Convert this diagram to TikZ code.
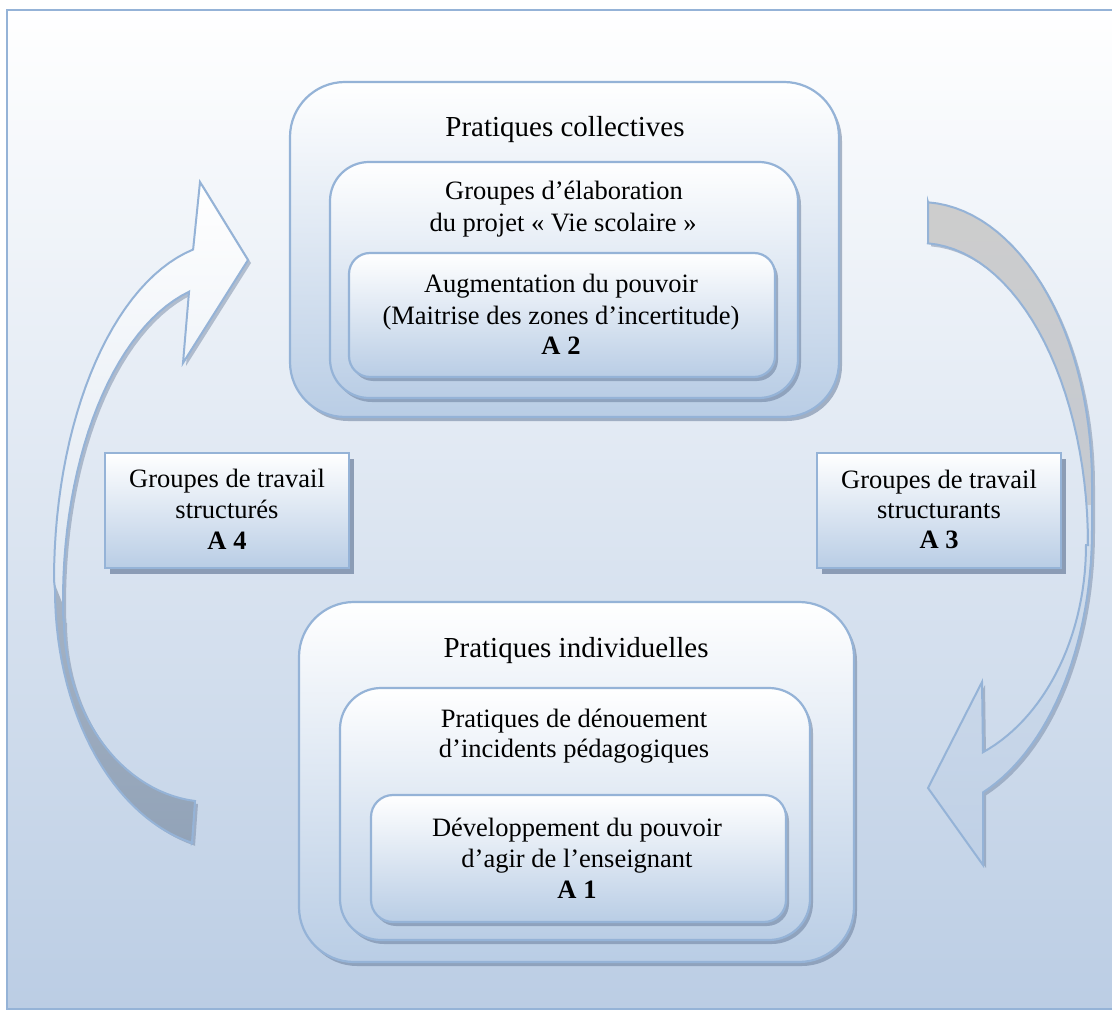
\documentclass[tikz,border=0pt]{standalone}
\usepackage{fontspec}
\setmainfont{Liberation Serif}
\usetikzlibrary{shadows}
\definecolor{edge}{HTML}{95B3D7}
\definecolor{bluebot}{HTML}{B9CDE5}
\definecolor{framebot}{HTML}{BBCDE4}
\definecolor{shadowc}{HTML}{6A7E9C}
\begin{document}
\begin{tikzpicture}[x=1pt,y=-1pt,
  rbox/.style={draw=edge, line width=2.2pt, top color=white, bottom color=bluebot, inner sep=0pt,
    drop shadow={shadow xshift=3pt, shadow yshift=-4pt, fill=shadowc, opacity=0.55}},
  sqbox/.style={draw=edge, line width=2.2pt, top color=white, bottom color=bluebot, inner sep=0pt,
    drop shadow={shadow xshift=5pt, shadow yshift=-6pt, fill=shadowc, opacity=0.7}},
  ttl/.style={font=\fontsize{29}{33}\selectfont, anchor=base, inner sep=0pt},
  txt/.style={font=\fontsize{26.5}{31}\selectfont, anchor=base, inner sep=0pt},
  bld/.style={font=\fontsize{26.5}{31}\selectfont\bfseries, anchor=base, inner sep=0pt},
  arrline/.style={draw=edge, line width=2pt, line join=miter},
  arrshadow/.style={fill=shadowc, opacity=0.45}
]
\useasboundingbox (0,0) rectangle (1112,1011);
\begin{scope}
\clip (0,0) rectangle (1112,1011);
% frame
\shade[top color=white, bottom color=framebot] (7,10) rectangle (1130,1009);
\draw[edge, line width=2.6pt] (7,10) rectangle (1130,1009);

% ---------------- left arrow (A4) ----------------
\begin{scope}[shift={(3,3)}]
\fill[arrshadow] (192,843) -- plot[domain=257.5:180, samples=30, variable=\t] ({230+175*cos(\t)},{590-259*sin(\t)})
  -- plot[domain=180:102.1, samples=30, variable=\t] ({230+176*cos(\t)},{580-338*sin(\t)})
  -- (200,182) -- (248,260) -- (183,363) -- (189,292)
  -- plot[domain=104.2:183.6, samples=30, variable=\t] ({230+167*cos(\t)},{600-318*sin(\t)})
  -- plot[domain=180:264.1, samples=30, variable=\t] ({210+146*cos(\t)},{620-182*sin(\t)}) -- cycle;
\end{scope}
\shade[top color=white, bottom color={rgb,255:red,220;green,229;blue,240}]
  (54,580) -- plot[domain=180:102.1, samples=30, variable=\t] ({230+176*cos(\t)},{580-338*sin(\t)})
  -- (200,182) -- (248,260) -- (183,363) -- (189,292)
  -- plot[domain=104.2:183.6, samples=30, variable=\t] ({230+167*cos(\t)},{600-318*sin(\t)}) -- cycle;
\shade[top color={rgb,255:red,166;green,179;blue,196}, bottom color={rgb,255:red,146;green,163;blue,184}]
  (54,582) -- plot[domain=180:257.5, samples=30, variable=\t] ({230+175*cos(\t)},{590-259*sin(\t)})
  -- (195,801) -- plot[domain=264.1:180, samples=30, variable=\t] ({210+146*cos(\t)},{620-182*sin(\t)}) -- (63,605) -- cycle;
\path[arrline] (192,843) -- plot[domain=257.5:180, samples=30, variable=\t] ({230+175*cos(\t)},{590-259*sin(\t)})
  -- plot[domain=180:102.1, samples=30, variable=\t] ({230+176*cos(\t)},{580-338*sin(\t)})
  -- (200,182) -- (248,260) -- (183,363) -- (189,292)
  -- plot[domain=104.2:183.6, samples=30, variable=\t] ({230+167*cos(\t)},{600-318*sin(\t)})
  -- plot[domain=180:264.1, samples=30, variable=\t] ({210+146*cos(\t)},{620-182*sin(\t)}) -- cycle;

% ---------------- right arrow (A3) ----------------
\begin{scope}[shift={(3,3)}]
\fill[arrshadow] (928,243) -- (928,202)
  -- plot[domain=87.3:0, samples=30, variable=\t] ({920+172*cos(\t)},{483-281*sin(\t)})
  -- plot[domain=0:-68.5, samples=30, variable=\t] ({920+172*cos(\t)},{530-282*sin(\t)})
  -- (983,865) -- (928,788) -- (982,682) -- (983,752)
  -- plot[domain=-67.7:0, samples=30, variable=\t] ({920+166*cos(\t)},{545-224*sin(\t)})
  -- plot[domain=0:87.3, samples=30, variable=\t] ({920+168*cos(\t)},{545-302*sin(\t)}) -- cycle;
\end{scope}
\shade[top color={rgb,255:red,205;green,205;blue,205}, bottom color={rgb,255:red,196;green,201;blue,209}]
  (928,202) -- plot[domain=87.3:0, samples=30, variable=\t] ({920+172*cos(\t)},{483-281*sin(\t)})
  -- (1092,515) -- (1087,515)
  -- plot[domain=6.3:87.3, samples=30, variable=\t] ({920+168*cos(\t)},{545-302*sin(\t)}) -- cycle;
\shade[top color={rgb,255:red,212;green,223;blue,236}, bottom color={rgb,255:red,191;green,208;blue,230}]
  (1092,505) -- plot[domain=0:-68.5, samples=30, variable=\t] ({920+172*cos(\t)},{530-282*sin(\t)})
  -- (983,865) -- (928,788) -- (982,682) -- (983,752)
  -- plot[domain=-67.7:0, samples=30, variable=\t] ({920+166*cos(\t)},{545-224*sin(\t)})
  -- (1087,505) -- cycle;
\path[arrline] (928,243) -- (928,202)
  -- plot[domain=87.3:0, samples=30, variable=\t] ({920+172*cos(\t)},{483-281*sin(\t)})
  -- plot[domain=0:-68.5, samples=30, variable=\t] ({920+172*cos(\t)},{530-282*sin(\t)})
  -- (983,865) -- (928,788) -- (982,682) -- (983,752)
  -- plot[domain=-67.7:0, samples=30, variable=\t] ({920+166*cos(\t)},{545-224*sin(\t)})
  -- plot[domain=0:87.3, samples=30, variable=\t] ({920+168*cos(\t)},{545-302*sin(\t)}) -- cycle;

% ---------------- top group ----------------
\node[rbox, rounded corners=55pt, minimum width=549pt, minimum height=335pt] (colOuter) at (564.5,249.5) {};
\node[rbox, rounded corners=39pt, minimum width=468pt, minimum height=236pt] (colMid) at (564,280) {};
\node[rbox, rounded corners=21pt, minimum width=426pt, minimum height=124pt] (colIn) at (562,315) {};
\node[ttl] (colT) at (565,137) {Pratiques collectives};
\node[txt] (colM1) at (564,200) {Groupes d’élaboration};
\node[txt] (colM2) at (563,232) {du projet « Vie scolaire »};
\node[txt] (colI1) at (561,293) {Augmentation du pouvoir};
\node[txt] (colI2) at (561,325) {(Maitrise des zones d’incertitude)};
\node[bld] (colI3) at (561,355) {A 2};

% ---------------- bottom group ----------------
\node[rbox, rounded corners=55pt, minimum width=555pt, minimum height=360pt] (indOuter) at (576.5,782) {};
\node[rbox, rounded corners=41pt, minimum width=470pt, minimum height=252pt] (indMid) at (575,814) {};
\node[rbox, rounded corners=22pt, minimum width=415pt, minimum height=127pt] (indIn) at (578.5,858.5) {};
\node[ttl] (indT) at (576,657) {Pratiques individuelles};
\node[txt] (indM1) at (574,727) {Pratiques de dénouement};
\node[txt] (indM2) at (574,757) {d’incidents pédagogiques};
\node[txt] (indI1) at (577,836) {Développement du pouvoir};
\node[txt] (indI2) at (577,867) {d’agir de l’enseignant};
\node[bld] (indI3) at (577,898) {A 1};

% ---------------- side boxes ----------------
\node[sqbox, minimum width=244pt, minimum height=115pt] (a4box) at (227,510.5) {};
\node[txt] (a4l1) at (227,487) {Groupes de travail};
\node[txt] (a4l2) at (227,518) {structurés};
\node[bld] (a4l3) at (227,549) {A 4};

\node[sqbox, minimum width=244pt, minimum height=115pt] (a3box) at (939,510.5) {};
\node[txt] (a3l1) at (939,488) {Groupes de travail};
\node[txt] (a3l2) at (939,518) {structurants};
\node[bld] (a3l3) at (939,548) {A 3};
\end{scope}
\end{tikzpicture}
\end{document}
